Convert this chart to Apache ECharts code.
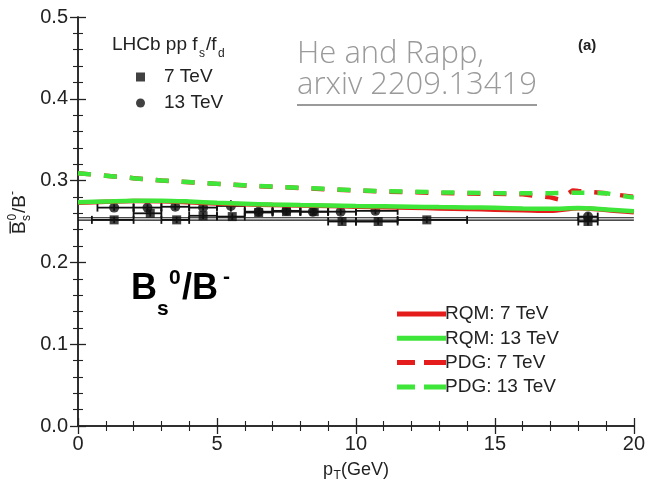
<!DOCTYPE html>
<html>
<head>
<meta charset="utf-8">
<script src="https://cdn.jsdelivr.net/npm/echarts@6/dist/echarts.min.js"></script>
<style>html,body{margin:0;padding:0;background:#fff}#c{width:648px;height:490px}</style>
</head>
<body>
<div id="c"></div>
<script>
// ---- data ----
const xTicks = [0, 5, 10, 15, 20];
const yTicks = [0.0, 0.1, 0.2, 0.3, 0.4, 0.5];

const rqm7X  = [0,1,2,3,4,5,6,7,8,9,10,11,12,13,14,15,16,17,18,19,20];
const rqm7Y  = [0.273,0.274,0.275,0.2748,0.2735,0.272,0.271,0.2702,0.2695,0.269,0.268,0.2675,0.2668,0.266,0.2652,0.2645,0.2638,0.263,0.2662,0.2642,0.2612];
const rqm13X = [0,1,2,3,4,5,6,7,8,9,10,11,12,13,14,15,16,17,18,19,20];
const rqm13Y = [0.2735,0.2745,0.2755,0.2755,0.2745,0.2728,0.2717,0.2707,0.2701,0.2696,0.269,0.2686,0.2681,0.2676,0.2672,0.2667,0.2658,0.2655,0.2665,0.2648,0.2625];
const pdg7X  = [0,1,2,3,4,5,6,7,8,9,10,11,12,13,14,15,16,17,17.3,17.8,18,19,20];
const pdg7Y  = [0.309,0.306,0.303,0.300,0.298,0.296,0.294,0.2925,0.291,0.2893,0.2878,0.2866,0.2858,0.2848,0.2843,0.2838,0.2832,0.2795,0.277,0.288,0.2872,0.2845,0.2800];
const pdg13X = [0,1,2,3,4,5,6,7,8,9,10,11,12,13,14,15,16,17,18,19,20];
const pdg13Y = [0.309,0.306,0.303,0.3002,0.2982,0.2962,0.2943,0.2927,0.2912,0.2897,0.2882,0.2871,0.2864,0.2856,0.2851,0.2847,0.2846,0.2846,0.2852,0.2846,0.2792];

const lhcb7X  = [1.3,2.6,3.55,4.5,5.55,6.5,7.5,8.5,9.5,10.8,12.55,18.35];
const lhcb7Y  = [0.252,0.260,0.252,0.257,0.256,0.261,0.262,0.262,0.250,0.250,0.252,0.250];
const lhcb7Lo = [0.5,2,3,4,5,6,7,8,9,10,11.5,18.0];
const lhcb7Hi = [2,3,4,5,6,7,8,9,10,11.5,14,18.7];
const lhcb7Err = [0.004,0.004,0.004,0.004,0.004,0.004,0.004,0.004,0.004,0.004,0.004,0.005];

const lhcb13X  = [1.3,2.5,3.5,4.5,5.5,6.5,7.5,8.45,9.45,10.7,18.35];
const lhcb13Y  = [0.267,0.267,0.268,0.267,0.269,0.262,0.263,0.262,0.262,0.263,0.256];
const lhcb13Lo = [0.7,2,3,4,5,6,7,8,9,10,18.0];
const lhcb13Hi = [2,3,4,5,6,7,8,9,10,11.5,18.7];
const lhcb13Err = [0.004,0.004,0.004,0.004,0.007,0.004,0.004,0.004,0.004,0.004,0.005];

const fitLevels = [0.2546, 0.2518];

// ---- build ----
const pairs = (xs, ys) => xs.map((x, i) => [x, ys[i]]);
const RED = '#e41c1c', GREEN = '#3fe63a';
const FONT = '"Liberation Sans", Arial, sans-serif';
const DASH = [13, 13];

function errSeries(name, xs, ys, lo, hi, err) {
  return {
    type: 'custom', name: name + ' err', z: 4, silent: true,
    data: xs.map((x, i) => [x, ys[i], lo[i], hi[i], err[i]]),
    renderItem: function (params, api) {
      const y = api.value(1);
      const pL = api.coord([api.value(2), y]);
      const pR = api.coord([api.value(3), y]);
      const pT = api.coord([api.value(0), y + api.value(4)]);
      const pB = api.coord([api.value(0), y - api.value(4)]);
      const st = { stroke: '#111', lineWidth: 1.8 };
      return { type: 'group', children: [
        { type: 'line', shape: { x1: pL[0], y1: pL[1], x2: pR[0], y2: pR[1] }, style: st },
        { type: 'line', shape: { x1: pL[0], y1: pL[1] - 4, x2: pL[0], y2: pL[1] + 4 }, style: st },
        { type: 'line', shape: { x1: pR[0], y1: pR[1] - 4, x2: pR[0], y2: pR[1] + 4 }, style: st },
        { type: 'line', shape: { x1: pT[0], y1: pT[1], x2: pB[0], y2: pB[1] }, style: st }
      ]};
    }
  };
}

const series = [
  { name: 'fit a', type: 'line', data: [[0, fitLevels[0]], [20, fitLevels[0]]], symbol: 'none', lineStyle: { color: '#111', width: 1.2 }, z: 3, silent: true },
  { name: 'fit b', type: 'line', data: [[0, fitLevels[1]], [20, fitLevels[1]]], symbol: 'none', lineStyle: { color: '#111', width: 1.2 }, z: 3, silent: true },
  errSeries('7 TeV', lhcb7X, lhcb7Y, lhcb7Lo, lhcb7Hi, lhcb7Err),
  errSeries('13 TeV', lhcb13X, lhcb13Y, lhcb13Lo, lhcb13Hi, lhcb13Err),
  { name: '7 TeV', type: 'scatter', data: pairs(lhcb7X, lhcb7Y), symbol: 'rect', symbolSize: 9, itemStyle: { color: '#111' }, z: 5 },
  { name: '13 TeV', type: 'scatter', data: pairs(lhcb13X, lhcb13Y), symbol: 'circle', symbolSize: 10, itemStyle: { color: '#111' }, z: 5 },
  { name: 'RQM: 7 TeV', type: 'line', data: pairs(rqm7X, rqm7Y), symbol: 'none', smooth: 0.3, lineStyle: { color: RED, width: 4.5 }, itemStyle: { color: RED }, z: 6 },
  { name: 'RQM: 13 TeV', type: 'line', data: pairs(rqm13X, rqm13Y), symbol: 'none', smooth: 0.3, lineStyle: { color: GREEN, width: 4.5 }, itemStyle: { color: GREEN }, z: 7 },
  { name: 'PDG: 7 TeV', type: 'line', data: pairs(pdg7X, pdg7Y), symbol: 'none', lineStyle: { color: RED, width: 4.5, type: DASH }, itemStyle: { color: RED }, z: 6 },
  { name: 'PDG: 13 TeV', type: 'line', data: pairs(pdg13X, pdg13Y), symbol: 'none', lineStyle: { color: GREEN, width: 4.5, type: DASH }, itemStyle: { color: GREEN }, z: 7 }
];

const axisLine = { show: true, lineStyle: { color: '#222', width: 1.5 } };
const tick = { show: true, inside: true, length: 8, lineStyle: { color: '#222', width: 1.3 } };
const minor = { show: true, splitNumber: 5, length: 5, lineStyle: { color: '#222', width: 1.1 } };
const lbl = { color: '#222', fontSize: 20, fontFamily: FONT };

const DASH_ICON = 'path://M0,0h18v5h-18z M27,0h22v5h-22z';

const option = {
  animation: false,
  backgroundColor: '#fff',
  grid: { left: 78, right: 12, top: 17, bottom: 64 },
  xAxis: [
    { type: 'value', min: xTicks[0], max: xTicks[xTicks.length - 1], interval: 5, position: 'bottom',
      axisLine: axisLine, axisTick: tick, minorTick: minor, splitLine: { show: false },
      axisLabel: Object.assign({ margin: 8 }, lbl) },
    { type: 'value', min: 0, max: 20, interval: 5, position: 'top',
      axisLine: axisLine, axisTick: tick, minorTick: minor, splitLine: { show: false }, axisLabel: { show: false } }
  ],
  yAxis: [
    { type: 'value', min: yTicks[0], max: yTicks[yTicks.length - 1], interval: 0.1, position: 'left',
      axisLine: axisLine, axisTick: tick, minorTick: minor, splitLine: { show: false },
      axisLabel: Object.assign({ margin: 10, formatter: v => v.toFixed(1) }, lbl) },
    { type: 'value', min: 0, max: 0.5, interval: 0.1, position: 'right',
      axisLine: axisLine, axisTick: tick, minorTick: minor, splitLine: { show: false }, axisLabel: { show: false } }
  ],
  legend: [
    { data: [
        { name: 'RQM: 7 TeV', icon: 'rect' },
        { name: 'RQM: 13 TeV', icon: 'rect' },
        { name: 'PDG: 7 TeV', icon: DASH_ICON },
        { name: 'PDG: 13 TeV', icon: DASH_ICON }
      ],
      orient: 'vertical', left: 392, top: 299.5, itemWidth: 49, itemHeight: 5, itemGap: 5.3,
      textStyle: { fontSize: 19, lineHeight: 19, color: '#222', fontFamily: FONT, padding: [0, 0, 0, -6] } },
    { data: [{ name: '7 TeV', icon: 'rect' }, { name: '13 TeV', icon: 'circle' }],
      orient: 'vertical', left: 131, top: 62.5, itemWidth: 9, itemHeight: 9, itemGap: 7,
      textStyle: { fontSize: 19, lineHeight: 19, color: '#222', fontFamily: FONT, padding: [0, 0, 0, 14] } }
  ],
  graphic: [
    // LHCb header
    { type: 'text', left: 112, top: 35, style: { text: 'LHCb pp f', font: '19px ' + FONT, fill: '#222' } },
    { type: 'text', left: 199, top: 48, style: { text: 's', font: '12px ' + FONT, fill: '#222' } },
    { type: 'text', left: 206, top: 35, style: { text: '/f', font: '19px ' + FONT, fill: '#222' } },
    { type: 'text', left: 218, top: 48, style: { text: 'd', font: '12px ' + FONT, fill: '#222' } },
    // He and Rapp
    { type: 'text', left: 297, top: 39, style: { text: 'He and Rapp,', font: '300 31px "Open Sans", Lato, sans-serif', fill: '#9a9a9a' } },
    { type: 'text', left: 297, top: 70, style: { text: 'arxiv 2209.13419', font: '300 31px "Open Sans", Lato, sans-serif', fill: '#9a9a9a' } },
    { type: 'rect', left: 297, top: 104, shape: { width: 240, height: 2 }, style: { fill: '#9a9a9a' } },
    // (a)
    { type: 'text', left: 578, top: 38, style: { text: '(a)', font: 'bold 15px ' + FONT, fill: '#222' } },
    // Bs0/B-
    { type: 'text', left: 131, top: 271.5, style: { text: 'B', font: 'bold 36px ' + FONT, fill: '#000' } },
    { type: 'text', left: 157, top: 299, style: { text: 's', font: 'bold 21px ' + FONT, fill: '#000' } },
    { type: 'text', left: 169, top: 268, style: { text: '0', font: 'bold 21px ' + FONT, fill: '#000' } },
    { type: 'text', left: 182, top: 271.5, style: { text: '/B', font: 'bold 36px ' + FONT, fill: '#000' } },
    { type: 'text', left: 223, top: 266.5, style: { text: '-', font: 'bold 21px ' + FONT, fill: '#000' } },
    // x axis title
    { type: 'text', left: 323, top: 461.5, style: { text: 'p', font: '18px ' + FONT, fill: '#222' } },
    { type: 'text', left: 333.5, top: 470, style: { text: 'T', font: '12px ' + FONT, fill: '#222' } },
    { type: 'text', left: 341, top: 461.5, style: { text: '(GeV)', font: '18px ' + FONT, fill: '#222' } },
    // y axis title (rotated)
    { type: 'group', x: 10, y: 234, rotation: Math.PI / 2, children: [
      { type: 'text', x: 0, y: 0, style: { text: 'B', font: '19px ' + FONT, fill: '#222' } },
      { type: 'rect', shape: { x: 0.5, y: -0.5, width: 12, height: 1.4 }, style: { fill: '#222' } },
      { type: 'text', x: 13, y: 11, style: { text: 's', font: '12px ' + FONT, fill: '#222' } },
      { type: 'text', x: 13.5, y: -3, style: { text: '0', font: '12px ' + FONT, fill: '#222' } },
      { type: 'text', x: 21, y: 0, style: { text: '/B', font: '19px ' + FONT, fill: '#222' } },
      { type: 'text', x: 39, y: -3, style: { text: '-', font: '12px ' + FONT, fill: '#222' } }
    ]}
  ],
  series: series
};

const chart = echarts.init(document.getElementById('c'), null, { renderer: 'canvas' });
chart.setOption(option);
</script>
</body>
</html>
